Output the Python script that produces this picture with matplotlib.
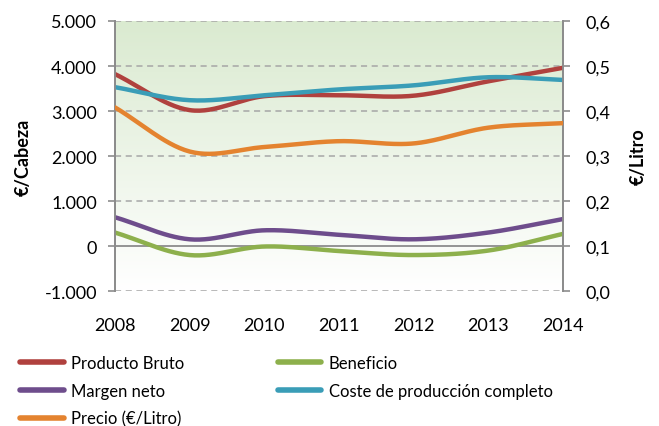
import numpy as np
import matplotlib.pyplot as plt
from matplotlib.lines import Line2D
from matplotlib.colors import LinearSegmentedColormap

plt.rcParams['font.family'] = ['Lato', 'DejaVu Sans']

#%% DATA

years = [2008, 2009, 2010, 2011, 2012, 2013, 2014]

producto_bruto = [3820, 3020, 3330, 3350, 3340, 3660, 3960]   # €/cabeza
margen_neto = [640, 150, 350, 250, 150, 300, 600]
beneficio = [300, -200, -10, -110, -200, -100, 270]
coste_prod = [3530, 3240, 3350, 3480, 3570, 3750, 3690]
precio = [0.408, 0.310, 0.320, 0.333, 0.328, 0.363, 0.373]     # €/litro

left_ticks = [-1000, 0, 1000, 2000, 3000, 4000, 5000]
left_labels = ['-1.000', '0', '1.000', '2.000', '3.000', '4.000', '5.000']
right_ticks = [0.0, 0.1, 0.2, 0.3, 0.4, 0.5, 0.6]
right_labels = ['0,0', '0,1', '0,2', '0,3', '0,4', '0,5', '0,6']

c_red = '#B0413E'
c_purple = '#6E4D8C'
c_orange = '#E4832F'
c_green = '#8DB04C'
c_teal = '#3A9DB7'
c_grey = '#8C8C8C'

#%% smoothing (catmull-rom like excel smoothed lines)

def smooth(x, y, n=30):
    x = np.asarray(x, float)
    y = np.asarray(y, float)
    px = np.concatenate([[2*x[0]-x[1]], x, [2*x[-1]-x[-2]]])
    py = np.concatenate([[2*y[0]-y[1]], y, [2*y[-1]-y[-2]]])
    xs, ys = [], []
    t = np.linspace(0, 1, n, endpoint=False)
    for i in range(1, len(px)-2):
        for p, out in ((px, xs), (py, ys)):
            p0, p1, p2, p3 = p[i-1], p[i], p[i+1], p[i+2]
            out.extend(0.5*((2*p1) + (-p0+p2)*t + (2*p0-5*p1+4*p2-p3)*t**2
                            + (-p0+3*p1-3*p2+p3)*t**3))
    xs.append(x[-1])
    ys.append(y[-1])
    return np.array(xs), np.array(ys)

#%% PLOT

fig = plt.figure(figsize=(6.59, 4.27), dpi=100)
ax = fig.add_axes([0.1745, 0.316, 0.6798, 0.6325])
ax2 = ax.twinx()

# background gradient
cmap = LinearSegmentedColormap.from_list('bg', ['#FFFFFF', '#DAEAD0'])
grad = np.linspace(0, 1, 256).reshape(-1, 1)
ax.imshow(grad, aspect='auto', cmap=cmap, origin='lower',
          extent=[2008, 2014, -1000, 5000], zorder=0)

for v in left_ticks:
    if v == 0:
        ax.axhline(0, color=c_grey, lw=1.3, zorder=1)
    else:
        ax.axhline(v, color='#A6A6A6', lw=1.1, ls=(0, (4, 3)), zorder=1)

lw = 3.2
for vals, col in ((producto_bruto, c_red), (margen_neto, c_purple),
                  (beneficio, c_green), (coste_prod, c_teal)):
    sx, sy = smooth(years, vals)
    ax.plot(sx, sy, color=col, lw=lw, solid_capstyle='round', zorder=3)

sx, sy = smooth(years, precio)
ax2.plot(sx, sy, color=c_orange, lw=lw, solid_capstyle='round', zorder=3)

ax.set_xlim(2008, 2014)
ax.set_ylim(-1000, 5000)
ax2.set_ylim(0, 0.6)

ax.set_yticks(left_ticks)
ax.set_yticklabels(left_labels)
ax2.set_yticks(right_ticks)
ax2.set_yticklabels(right_labels)
ax.set_xticks(years)
ax.set_xticklabels([str(y) for y in years])

for a in (ax, ax2):
    for s in ('top', 'bottom'):
        a.spines[s].set_visible(False)
    a.spines['left'].set_color(c_grey)
    a.spines['right'].set_color(c_grey)
    a.spines['left'].set_linewidth(1.3)
    a.spines['right'].set_linewidth(1.3)
    a.tick_params(axis='y', colors=c_grey, length=5, width=1.2,
                  labelcolor='black', labelsize=13)
ax.tick_params(axis='y', pad=8)
ax2.tick_params(axis='y', pad=11)
ax.tick_params(axis='x', length=0, labelsize=13, pad=19)

ax.set_ylabel('€/Cabeza', fontsize=13, fontweight='bold', labelpad=9)
ax2.set_ylabel('€/Litro', fontsize=13, fontweight='bold', labelpad=14)

handles = [Line2D([], [], color=c, lw=4, solid_capstyle='round')
           for c in (c_red, c_purple, c_orange, c_green, c_teal)]
names = ['Producto Bruto', 'Margen neto', 'Precio (€/Litro)',
         'Beneficio', 'Coste de producción completo']
fig.legend(handles, names, ncol=2, loc='lower left',
           bbox_to_anchor=(0.008, -0.037), frameon=False, fontsize=12,
           handlelength=2.6, handletextpad=0.45, columnspacing=5.6,
           labelspacing=0.72)

fig.savefig('out.png', dpi=100)
